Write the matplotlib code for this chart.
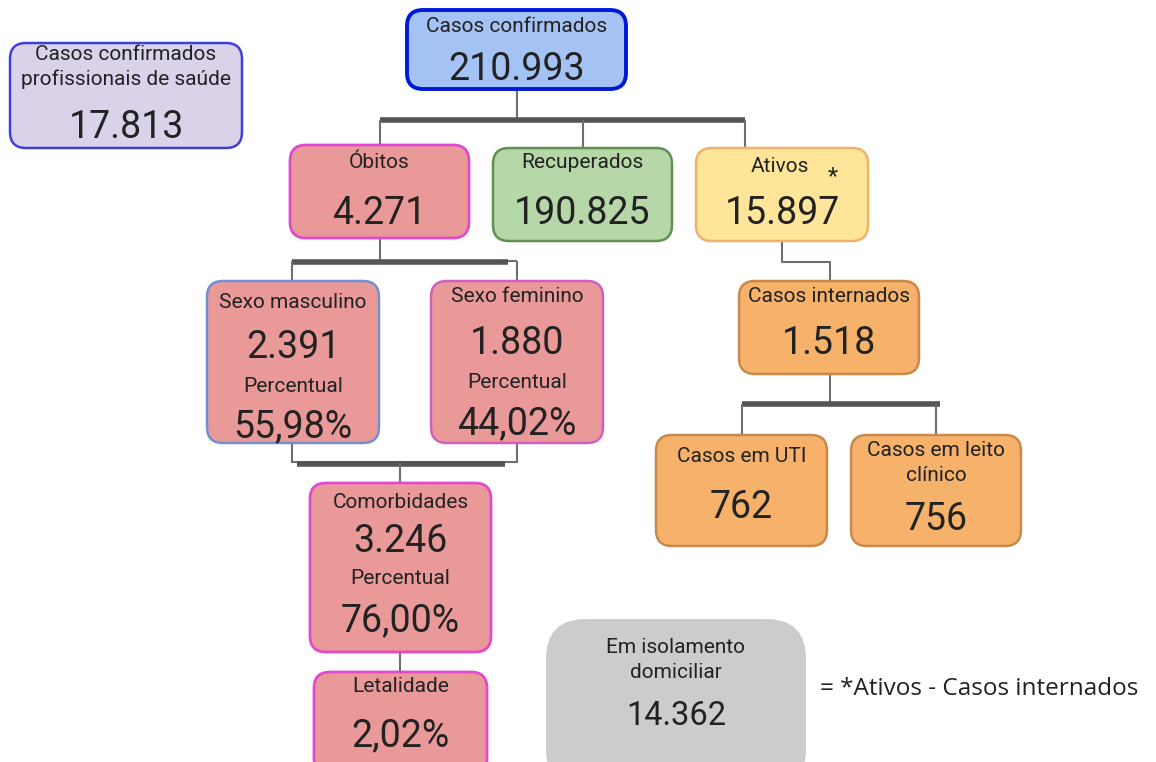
import matplotlib.pyplot as plt
from matplotlib.patches import FancyBboxPatch

plt.rcParams['font.family'] = ['Roboto', 'DejaVu Sans']

# dados do painel
titulos = ['Casos confirmados\nprofissionais de saúde', 'Casos confirmados', 'Óbitos',
           'Recuperados', 'Ativos', 'Sexo masculino', 'Sexo feminino',
           'Casos internados', 'Casos em UTI', 'Casos em leito\nclínico',
           'Comorbidades', 'Letalidade', 'Em isolamento\ndomiciliar']
valores = ['17.813', '210.993', '4.271', '190.825', '15.897', '2.391', '1.880',
           '1.518', '762', '756', '3.246', '2,02%', '14.362']
percentuais = {'Sexo masculino': '55,98%', 'Sexo feminino': '44,02%',
               'Comorbidades': '76,00%'}
nota = '= *Ativos - Casos internados'

# layout em pixels: x0, y0, x1, y1, y titulo, y valor, y percentual label, y percentual
layout = {
    'Casos confirmados\nprofissionais de saúde': (10, 43, 242, 148, 67, 128, None, None),
    'Casos confirmados': (407, 10, 626, 89, 27, 69, None, None),
    'Óbitos': (290, 145, 469, 238, 162, 213, None, None),
    'Recuperados': (493, 148, 672, 241, 163, 213, None, None),
    'Ativos': (696, 148, 868, 241, 166, 213, None, None),
    'Sexo masculino': (207, 281, 379, 443, 302, 347, 386, 427),
    'Sexo feminino': (431, 281, 603, 443, 297, 344, 383, 424),
    'Casos internados': (739, 281, 919, 374, 297, 344, None, None),
    'Casos em UTI': (656, 435, 827, 546, 457, 508, None, None),
    'Casos em leito\nclínico': (851, 435, 1021, 546, 463, 520, None, None),
    'Comorbidades': (310, 483, 491, 652, 502, 542, 579, 621),
    'Letalidade': (314, 672, 487, 775, 686, 736, None, None),
    'Em isolamento\ndomiciliar': (546, 619, 806, 790, 660, 716, None, None),
}

rosa, rosa_borda = '#ea9999', '#e04ad0'
laranja, laranja_borda = '#f6b26b', '#c88a4c'
estilo = {
    'Casos confirmados\nprofissionais de saúde': ('#d9d2e9', '#4040d8', 1.8),
    'Casos confirmados': ('#a4c2f4', '#0018d8', 2.8),
    'Óbitos': (rosa, rosa_borda, 2.0),
    'Recuperados': ('#b6d7a8', '#62904f', 1.8),
    'Ativos': ('#ffe599', '#f0b26b', 1.8),
    'Sexo masculino': (rosa, '#7090d0', 1.8),
    'Sexo feminino': (rosa, '#d060c0', 1.8),
    'Casos internados': (laranja, laranja_borda, 1.8),
    'Casos em UTI': (laranja, laranja_borda, 1.8),
    'Casos em leito\nclínico': (laranja, laranja_borda, 1.8),
    'Comorbidades': (rosa, rosa_borda, 2.0),
    'Letalidade': (rosa, rosa_borda, 2.0),
    'Em isolamento\ndomiciliar': ('#cccccc', 'none', 0),
}

fig = plt.figure(figsize=(11.56, 7.62), dpi=100)
ax = fig.add_axes([0, 0, 1, 1])
ax.set_xlim(0, 1156)
ax.set_ylim(762, 0)
ax.axis('off')

fino = dict(color='#6e6e6e', lw=1.5, solid_capstyle='butt', zorder=1)
grosso = dict(color='#555555', lw=4, solid_capstyle='butt', zorder=1)

# conectores
ax.plot([517, 517], [89, 120], **fino)
ax.plot([380, 745], [120, 120], **grosso)
ax.plot([380, 380], [120, 145], **fino)
ax.plot([583, 583], [120, 148], **fino)
ax.plot([745, 745], [120, 148], **fino)

ax.plot([380, 380], [238, 262], **fino)
ax.plot([292, 517], [261, 261], **fino)
ax.plot([292, 508], [262, 262], **grosso)
ax.plot([292, 292], [261, 281], **fino)
ax.plot([517, 517], [261, 281], **fino)

ax.plot([292, 292], [443, 463], **fino)
ax.plot([517, 517], [443, 463], **fino)
ax.plot([292, 517], [462, 462], **fino)
ax.plot([297, 505], [464, 464], **grosso)
ax.plot([400, 400], [463, 483], **fino)
ax.plot([400, 400], [652, 672], **fino)

ax.plot([782, 782, 830, 830], [241, 262, 262, 281], **fino)
ax.plot([830, 830], [374, 404], **fino)
ax.plot([742, 940], [404, 404], **grosso)
ax.plot([742, 742], [404, 435], **fino)
ax.plot([936, 936], [404, 435], **fino)

for titulo, valor in zip(titulos, valores):
    x0, y0, x1, y1, yt, yv, yp, ypv = layout[titulo]
    cor, borda, lw = estilo[titulo]
    raio = 40 if titulo.startswith('Em isolamento') else 16
    ax.add_patch(FancyBboxPatch((x0, y0), x1 - x0, y1 - y0,
                                boxstyle=f'round,pad=0,rounding_size={raio}',
                                fc=cor, ec=borda, lw=lw, zorder=2))
    xc = (x0 + x1) / 2
    if titulo == 'Ativos':
        ax.text(780, yt, titulo, ha='center', va='center', fontsize=15,
                color='#222222', zorder=3)
        ax.text(833, 177, '*', ha='center', va='center', fontsize=17,
                color='#222222', zorder=3)
    else:
        ax.text(xc, yt, titulo, ha='center', va='center', fontsize=15,
                color='#222222', linespacing=1.35, zorder=3)
    tam_v = 23.5 if 'isolamento' in titulo else 27
    ax.text(xc, yv, valor, ha='center', va='center', fontsize=tam_v,
            color='#222222', zorder=3)
    if yp is not None:
        ax.text(xc, yp, 'Percentual', ha='center', va='center', fontsize=15,
                color='#222222', zorder=3)
        ax.text(xc, ypv, percentuais[titulo], ha='center', va='center',
                fontsize=27, color='#222222', zorder=3)

ax.text(820, 689, nota, ha='left', va='center', fontsize=17.5,
        family=['Open Sans', 'DejaVu Sans'], color='#222222')

fig.savefig('out.png', dpi=100)
